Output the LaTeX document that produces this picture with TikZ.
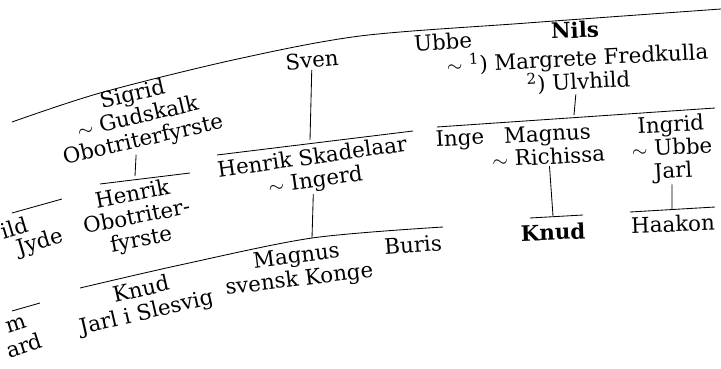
\documentclass[tikz,border=0pt]{standalone}
\usepackage{fontspec}
\setmainfont{DejaVu Serif}
\tikzset{
  person/.style={font=\fontsize{15.2}{16.5}\selectfont, inner sep=1pt, align=center},
  bar/.style={line width=0.6pt}
}
\begin{document}
\begin{tikzpicture}[x=0.025cm, y=-0.025cm]
\clip (0,0) rectangle (721,368);
% top arc
\draw[bar] plot[smooth] coordinates {(12,122) (100,93) (233,60) (360,36) (527,23) (721,9)};
% first row
\node[person, rotate=5] (sven) at (312,60) {Sven};
\node[person, rotate=13] (sigrid) at (138,118) {Sigrid\\$\sim$ Gudskalk\\Obotriterfyrste};
\node[person, rotate=4] (ubbe) at (443,42) {Ubbe};
\node[person, rotate=2, font=\fontsize{15.2}{16.5}\selectfont\bfseries] (nils) at (575,30) {Nils};
\node[person, rotate=3] (nilswife) at (578,70) {$\sim$ \textsuperscript{1}) Margrete Fredkulla\\\textsuperscript{2}) Ulvhild};
% bars under first row
\coordinate (sigj) at (135,176);
\coordinate (svenj) at (310,140);
\coordinate (nilsj) at (574,115);
\draw[bar] (100,184) -- (190,173);
\draw[bar] (217,155) -- (413,131);
\draw[bar] (437,127) -- (715,108);
\draw[bar] (12,213) -- (62,199);
\draw[bar] (sigrid) -- (sigj);
\draw[bar] (sven) -- (svenj);
\draw[bar] (nilswife) -- (nilsj);
% second row
\node[person, rotate=17] (ild) at (14,228) {ild};
\node[person, rotate=17] (jyde) at (40,243) {Jyde};
\node[person, rotate=11] (henrikob) at (137,218) {Henrik\\Obotriter-\\fyrste};
\node[person, rotate=8] (henrik) at (314,170) {Henrik Skadelaar\\$\sim$ Ingerd};
\node[person, rotate=3] (inge) at (460,140) {Inge};
\node[person, rotate=3] (magnus) at (548,145) {Magnus\\$\sim$ Richissa};
\node[person, rotate=3] (ingrid) at (672,149) {Ingrid\\$\sim$ Ubbe\\Jarl};
% bars under second row
\coordinate (henj) at (312,238);
\coordinate (magj) at (553,216);
\coordinate (ingj) at (672,209);
\draw[bar] plot[smooth] coordinates {(80,288) (180,265) (312,238) (443,227)};
\draw[bar] (530,218) -- (583,215);
\draw[bar] (630,212) -- (715,207);
\draw[bar] (12,311) -- (40,303);
\draw[bar] (henrik) -- (henj);
\draw[bar] (magnus) -- (magj);
\draw[bar] (ingrid) -- (ingj);
% third row
\node[person, rotate=18] (m) at (16,325) {m};
\node[person, rotate=18] (ard) at (24,345) {ard};
\node[person, rotate=13] (knud) at (144,302) {Knud\\Jarl i Slesvig};
\node[person, rotate=7] (magnussv) at (298,269) {Magnus\\svensk Konge};
\node[person, rotate=4] (buris) at (413,245) {Buris};
\node[person, rotate=2, font=\fontsize{15.2}{16.5}\selectfont\bfseries] (knudb) at (553,232) {Knud};
\node[person, rotate=2] (haakon) at (673,224) {Haakon};
\end{tikzpicture}
\end{document}
